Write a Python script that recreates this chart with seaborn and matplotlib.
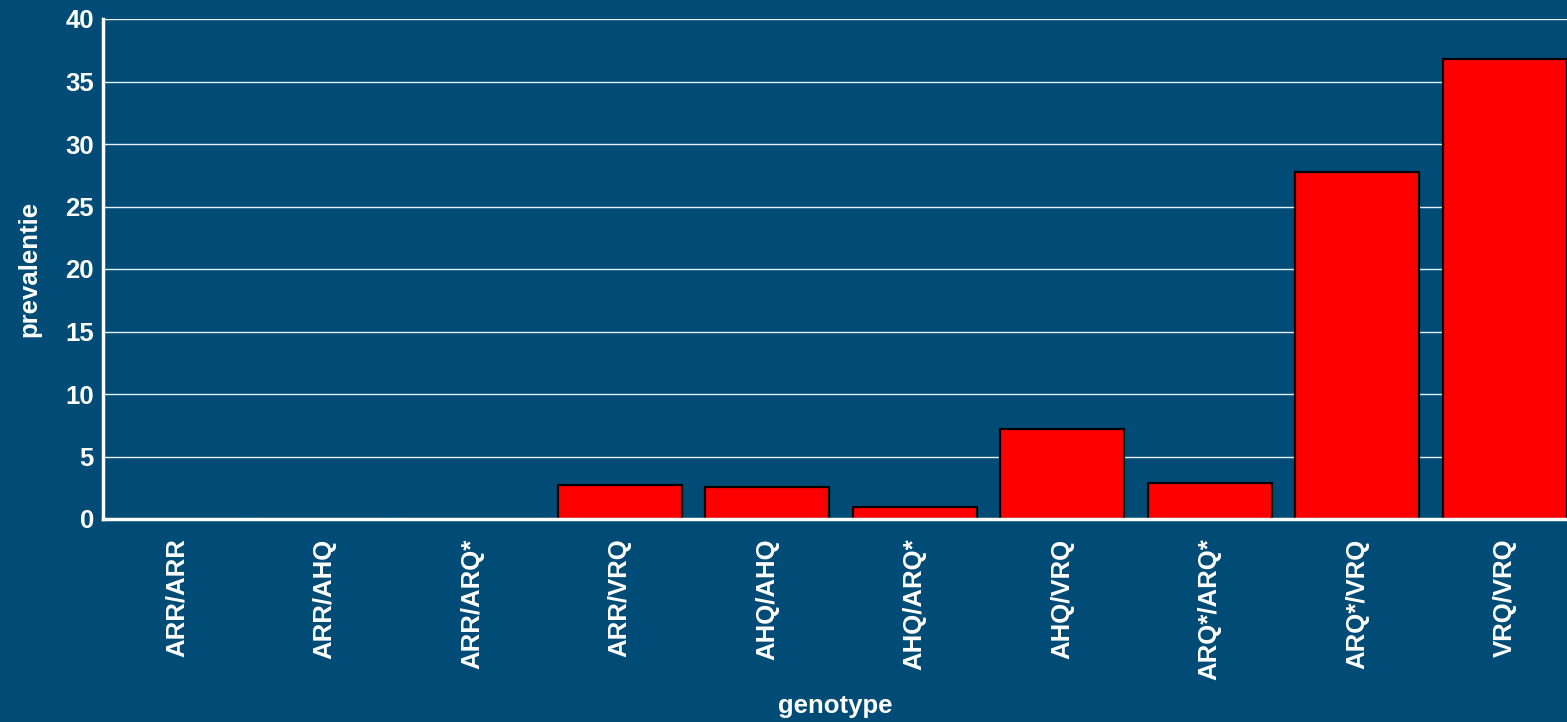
import matplotlib
matplotlib.use("Agg")
import matplotlib.pyplot as plt
import seaborn as sns
import numpy as np

genotypes = ["ARR/ARR", "ARR/AHQ", "ARR/ARQ*", "ARR/VRQ", "AHQ/AHQ",
             "AHQ/ARQ*", "AHQ/VRQ", "ARQ*/ARQ*", "ARQ*/VRQ", "VRQ/VRQ"]
prevalentie = [0.0, 0.0, 0.0, 2.7, 2.6, 1.0, 7.2, 2.9, 27.8, 36.8]
yticks = [0, 5, 10, 15, 20, 25, 30, 35, 40]

BG = "#004C77"

sns.set_theme(style="white")
plt.rcParams["font.family"] = ["Liberation Sans", "DejaVu Sans"]
plt.rcParams["font.weight"] = "bold"

fig = plt.figure(figsize=(15.67, 7.22), dpi=100, facecolor=BG)
ax = fig.add_axes([103/1567, 1 - 519/722, 1 - 103/1567, (519 - 19)/722])
ax.set_facecolor(BG)

sns.barplot(x=genotypes, y=prevalentie, color="#FF0000", saturation=1,
            edgecolor="black", linewidth=1.6, width=0.84, ax=ax, zorder=3)

ax.set_ylim(0, 40)
ax.set_xlim(-0.5, 9.42)
ax.set_yticks(yticks)
ax.set_yticklabels([str(v) for v in yticks], fontsize=18.5, fontweight="bold", color="white")
ax.yaxis.grid(True, color="#E8F0F8", linewidth=1.0, zorder=0)
ax.set_axisbelow(True)

ax.set_xticks(np.arange(len(genotypes)))
ax.set_xticklabels(genotypes, rotation=90, fontsize=18.5, fontweight="bold", color="white")
ax.set_xticks(np.arange(len(genotypes)) - 0.5, minor=True)
ax.tick_params(axis="x", which="major", length=0, pad=14)
ax.tick_params(axis="x", which="minor", length=4.5, width=2, color="white", direction="out")
ax.tick_params(axis="y", length=4.5, width=2, color="white", direction="out", pad=2)

for s in ["top", "right"]:
    ax.spines[s].set_visible(False)
for s in ["left", "bottom"]:
    ax.spines[s].set_color("white")
    ax.spines[s].set_linewidth(2.5)
    ax.spines[s].set_zorder(5)

ax.set_xlabel("genotype", fontsize=18.5, fontweight="bold", color="white")
ax.set_ylabel("prevalentie", fontsize=18.5, fontweight="bold", color="white")
ax.xaxis.set_label_coords(0.5, -0.35)
ax.yaxis.set_label_coords(-0.042, 0.5)

fig.savefig("out.png", dpi=100, facecolor=BG)
